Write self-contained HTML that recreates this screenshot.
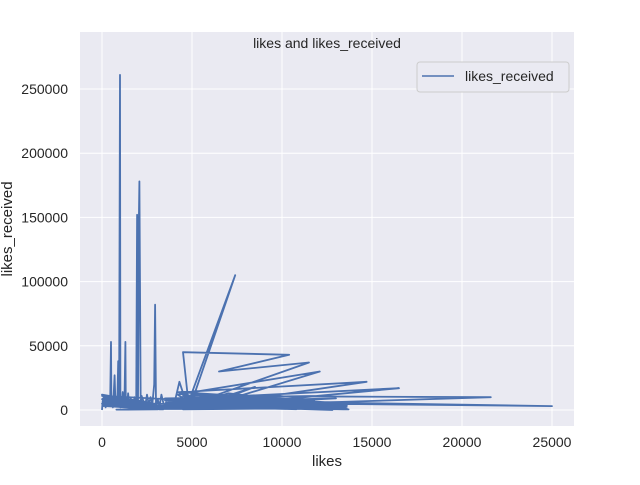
<!DOCTYPE html>
<html><head><meta charset="utf-8"><style>
body{margin:0;background:#fff;font-family:"Liberation Sans","DejaVu Sans",sans-serif}
</style></head><body>
<svg id="chart" width="640" height="480" xmlns="http://www.w3.org/2000/svg" font-family="Liberation Sans, DejaVu Sans, sans-serif">
<rect x="0" y="0" width="640" height="480" fill="#fff"/>
<rect x="80" y="32" width="494" height="394" fill="#eaeaf2"/>
<g id="grid"></g>
<g id="ticks"></g>
<path id="line" fill="none" stroke="#4c72b0" stroke-width="1.8" stroke-linejoin="round"/>
<text x="327" y="48" text-anchor="middle" font-size="14" fill="#262626">likes and likes_received</text>
<text x="327" y="466" text-anchor="middle" font-size="15" fill="#262626">likes</text>
<text transform="translate(12,229) rotate(-90)" text-anchor="middle" font-size="15" fill="#262626">likes_received</text>
<g>
<rect x="417" y="62" width="152" height="30" rx="3" fill="#eaeaf2" stroke="#cccccc"/>
<line x1="422" y1="76" x2="454" y2="76" stroke="#4c72b0" stroke-width="1.5"/>
<text x="465" y="81" font-size="14" fill="#262626">likes_received</text>
</g>
</svg>
<script>
const xTicks=[0,5000,10000,15000,20000,25000];
const yTicks=[0,50000,100000,150000,200000,250000];
const likes=[0,50,100,150,200,250,300,350,400,450,500,520,560,600,650,700,750,800,850,900,950,1000,1020,1060,1100,1150,1200,1250,1300,1320,1360,1400,1450,1500,1550,1600,1650,1700,1750,1800,1850,1900,1950,2000,2050,2080,2150,2200,2300,2400,2500,2600,2700,2800,2900,2950,3000,3100,3200,3300,3400,3500,3600,3800,4000,4300,4600,4900,5200,7400,4800,4500,10400,6500,11500,5000,4200,12100,6000,4400,14700,7000,5000,16500,6000,4500,21600,8000,5000,25000,7000,4000,13500,6000,3500,12000,5000,3800,13000,6500,4200,11000,5500,9000,4800,10500,6000,8000,5000,12500,4000,9500,7000,4600,13700,6200,8500,5200,11800,4300,7600,10000,5800,9200,4900,7300,3900,6800,13200,5400,
3700,12800,4100,13400,4500,12200,3600,13000,4000,11600,3800,13500,4200,12600,3900,13300,4400,12900,3700,13100,4600,12400,3500,13600,4100,12000,4800,13200,3900,11800,5200,12700,4300,13400,3600,12500,4700,13000,3800,11900,4000,13500,4500,12300,3700,12800,4200,13100,3900,12600,
300,3500,600,3300,200,3000,800,3600,400,3200,1200,3700,100,3400,900,3100,500,3500,1500,3800,250,3300,700,3600,1100,3000,1800,3500,150,3900,1300,3200,
5000,9800,4600,10200,5500,9400,4900,10600,6000,9000,5300,10800,4700,9600,5800,10000,6200,11000,5100,9200,4800,10400,
100,2900,300,3100,0,2700,500,3300,200,2800,700,3000,400,3200,100,2600,600,3400,300,2900,0,3100,800,2700,
3600,13600,3800,13400,4000,13500,3500,13300,3700,13600,3900,13200,4100,13400,3600,13500,4300,13100,3800,13600,4000,13300,3700,13400,4200,13500,3900,13200,
3500,9000,3800,8600,4000,9400,3600,8800,4400,9200,3900,8400,4200,9600,3700,8700,4500,9100,3600,8900,4100,9300,3800,8500,
6000,13000,6500,12600,5800,13400,6200,12800,7000,13200,5600,12400,6800,13000,6000,12700,
0,1500,200,1800,100,1300,400,2000,0,1600,300,1900,150,1400,500,2100,50,1700,250,2200];
const received=[0,9000,3000,11000,2000,8000,7000,4000,11000,3000,53000,3000,8000,2000,12000,27000,4000,9000,5000,38000,4000,261000,2000,9000,3000,14000,4000,8000,53000,2000,9000,3000,13000,6000,2000,9000,3000,7000,2000,10000,4000,3000,152000,5000,150000,178000,3000,11000,7000,3000,12000,4000,10000,5000,20000,82000,4000,8000,3000,12000,6000,3000,8000,5000,4000,22000,9000,3000,15000,105000,6000,45000,43000,30000,37000,5000,12000,30000,4000,14000,22000,6000,9000,17000,3000,11000,10000,4000,6000,3000,7000,2000,6000,1000,9000,11000,2000,8000,5000,1000,14000,8000,1000,3000,10000,2000,7000,4000,12000,6000,1000,9000,13000,2000,500,6000,18000,3000,7000,1000,8000,2000,11000,5000,1500,9000,4000,1000,6000,
1000,5000,2000,3000,500,6000,1500,2000,800,7000,3000,1000,2500,4000,1200,5500,2000,3500,700,6500,1800,2500,900,4500,3000,1500,2200,5000,600,3800,2700,1300,1900,4200,800,5800,2400,1100,3100,2000,1600,4800,900,3300,2600,1700,1200,5200,2100,900,
1000,4000,2000,6000,500,3000,1500,7000,800,5000,2500,4500,1200,8000,2000,3500,700,6500,1800,5500,1000,9000,2200,4000,1500,7500,600,5000,2800,3000,1300,6000,
500,3000,1200,4500,800,2500,1800,5000,1000,3500,2200,4000,600,2800,1500,6000,900,3200,2000,4200,1300,2600,
2000,6000,3500,9000,1000,5000,4500,8000,2500,7000,5500,10000,3000,6500,1500,7500,4000,9500,500,5500,3200,8500,
500,300,1000,800,1500,1200,2000,1600,2500,2200,3000,2700,3500,3200,4000,3800,4500,4200,5000,4600,5500,5000,6000,5400,
4500,6000,5000,6500,5500,7000,6000,7500,6500,8000,7000,8500,7500,9000,8000,5500,7000,4800,6000,5200,5000,4000,
1000,500,1500,800,2000,1200,2500,1600,3000,2000,3500,2400,4000,2800,4500,3000,
0,8000,3000,10000,5000,7000,9000,4000,2000,11000,6000,9000,1000,10000,7000,6000,4000,12000,8000,5000];
const X=v=>102+v*0.018;
const Y=v=>410-v*0.001284;
const ns="http://www.w3.org/2000/svg";
const grid=document.getElementById('grid'),ticks=document.getElementById('ticks');
xTicks.forEach(t=>{
  const l=document.createElementNS(ns,'line');
  
  
  l.setAttribute('x1',X(t));l.setAttribute('x2',X(t));l.setAttribute('y1',32);l.setAttribute('y2',426);
  l.setAttribute('stroke','#fff');l.setAttribute('stroke-width','1');grid.appendChild(l);
  const tx=document.createElementNS(ns,'text');
  
  
  tx.setAttribute('x',X(t));tx.setAttribute('y',447);tx.setAttribute('text-anchor','middle');
  tx.setAttribute('font-size','14');tx.setAttribute('fill','#262626');tx.textContent=t;ticks.appendChild(tx);
});
yTicks.forEach(t=>{
  const l=document.createElementNS(ns,'line');
  
  
  l.setAttribute('x1',80);l.setAttribute('x2',574);l.setAttribute('y1',Y(t));l.setAttribute('y2',Y(t));
  l.setAttribute('stroke','#fff');l.setAttribute('stroke-width','1');grid.appendChild(l);
  const tx=document.createElementNS(ns,'text');
  
  
  tx.setAttribute('x',68);tx.setAttribute('y',Y(t)+5);tx.setAttribute('text-anchor','end');
  tx.setAttribute('font-size','14');tx.setAttribute('fill','#262626');tx.textContent=t;ticks.appendChild(tx);
});
let d='';
const n=Math.min(likes.length,received.length);
for(let i=0;i<n;i++){d+=(i?'L':'M')+X(likes[i]).toFixed(1)+','+Y(received[i]).toFixed(1);}
document.getElementById('line').setAttribute('d',d);
</script>
</body></html>
